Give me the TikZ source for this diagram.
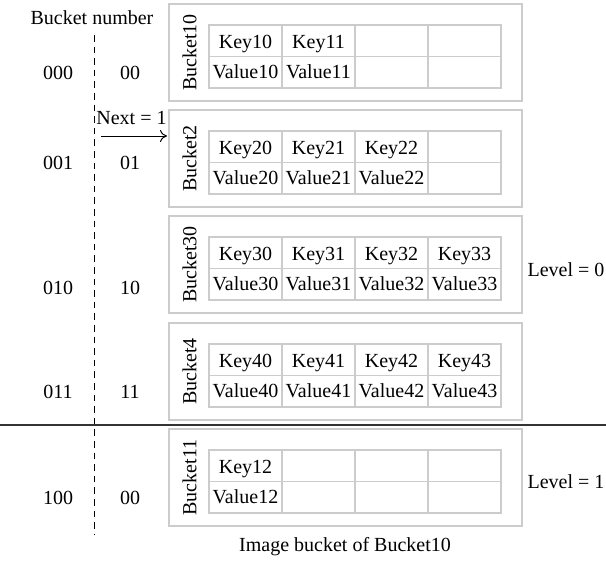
\documentclass[tikz,border=0pt]{standalone}
\usepackage{fontspec}
\setmainfont{Liberation Serif}
\usetikzlibrary{calc,arrows.meta}

\tikzset{
  boxline/.style={draw=black!20, line width=0.8pt},
  cellline/.style={draw=black!20, line width=0.7pt},
  txt/.style={inner sep=0pt, font=\fontsize{10}{12}\selectfont},
}
% #1 top edge, #2 name, #3 label, #4 list of number/column
\def\bucketbox(#1)#2#3#4{%
  \draw[boxline] (169,#1) rectangle (522,#1+97);
  \foreach \c in {0,...,3} {
    \draw[cellline] (209+73*\c,#1+21) rectangle ++(73,31.5);
    \draw[cellline] (209+73*\c,#1+52.5) rectangle ++(73,31.5);
  }
  \node[txt, rotate=90] (#2) at (189.5,#1+48.5) {#3};
  \foreach \n/\c in {#4} {
    \node[txt, anchor=base] (#2k\c) at (245.5+73*\c,#1+44.5) {Key\n};
    \node[txt, anchor=base] (#2v\c) at (245.5+73*\c,#1+74) {Value\n};
  }
}

\begin{document}
\begin{tikzpicture}[x=0.5pt, y=-0.5pt]
		%%%%% START %%%%%
		\useasboundingbox (0,0) rectangle (606,563);
		
		\node[txt] (bnum) at (92,18) {Bucket number};
		\draw[dash pattern=on 3.3pt off 2.5pt, line width=0.5pt] (94.5,35) -- (94.5,535);
		
		\bucketbox(4){b1}{Bucket10}{10/0,11/1}
		\bucketbox(110){b2}{Bucket2}{20/0,21/1,22/2}
		\bucketbox(216){b3}{Bucket30}{30/0,31/1,32/2,33/3}
		\bucketbox(323){b4}{Bucket4}{40/0,41/1,42/2,43/3}
		\bucketbox(429){b5}{Bucket11}{12/0}
		
		\node[txt] (n000) at (58,72.7) {000};
		\node[txt] (h00a) at (130,72.7) {00};
		\node[txt] (n001) at (58,163.3) {001};
		\node[txt] (h01) at (130,163.3) {01};
		\node[txt] (n010) at (58,287.7) {010};
		\node[txt] (h10) at (130,287.7) {10};
		\node[txt] (n011) at (58,392) {011};
		\node[txt] (h11) at (130,392) {11};
		\node[txt] (n100) at (58,497.7) {100};
		\node[txt] (h00b) at (130,497.7) {00};
		
		% split pointer
		\coordinate (nexttail) at (101,136);
		\coordinate (nexthead) at (167,136);
		\draw[-{To[length=3.5pt,width=6pt]}, line width=0.5pt] (nexttail) -- (nexthead);
		\node[txt] (next) at (131.5,118) {Next = 1};
		
		\draw[line width=0.8pt, black!80] (0,425) -- (606,425);
		
		\node[txt] (lvl0) at (566,270) {Level = 0};
		\node[txt] (lvl1) at (566,482) {Level = 1};
		\node[txt] (image) at (345,547) {Image bucket of Bucket10};
		%%%%% END %%%%%
	\end{tikzpicture}
\end{document}
